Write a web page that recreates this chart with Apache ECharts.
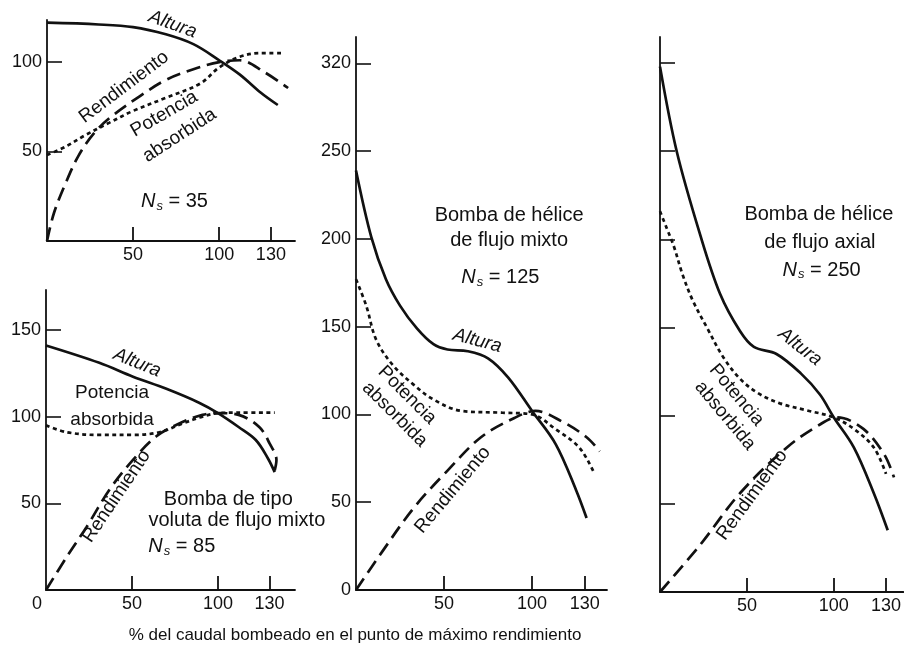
<!DOCTYPE html>
<html>
<head>
<meta charset="utf-8">
<script src="https://cdn.jsdelivr.net/npm/echarts@6/dist/echarts.min.js"></script>
<style>
  html, body { margin: 0; padding: 0; background: #fff; }
  #chart { width: 904px; height: 657px; }
</style>
</head>
<body>
<div id="chart"></div>
<script>
// % of flow at best efficiency point (x) against % of head / power / efficiency (y)
const FONT = '"Liberation Sans", Arial, Helvetica, sans-serif';

// Ns = 35
const ns35Altura = [[0,122],[30,121],[50,119.5],[69,115.5],[85,110],[100,101],[112,93],[124,83],[134,76]];
const ns35Rend   = [[0,0],[4,15.5],[10.7,32],[18.5,48],[28,61],[38,70],[54,81],[69,90],[85,96],[100,100],[112,101],[126,94.5],[140,85.5]];
const ns35Pot    = [[0,48],[10.7,52.7],[22,59],[36,66],[50,72.7],[69,80],[89,88],[100,97],[112,103],[124,105],[136,105]];

// Ns = 85
const ns85Altura = [[0,141],[31,131],[50.6,123],[70,116],[89,108],[100,102],[112,94],[122,86.5],[129,76],[133,68]];
const ns85Rend   = [[0,0],[12,19],[23.7,36.5],[37,58],[50.6,75],[64,88.5],[77.5,96],[91,101],[100.6,102],[112,101],[124,94],[130,84.6],[134,75],[133,69]];
const ns85Pot    = [[0,95],[12,91],[31,89.4],[50.6,89.4],[66,91],[79.4,96],[91,100],[100,102],[112,102.3],[133,102.3]];

// Ns = 125
const ns125Altura = [[0,239],[8.7,201],[17,177],[25,162],[34.6,149],[44,140],[52,137],[63.5,136],[75,132],[86.5,121],[100,102],[113.5,83],[125,57],[131,41]];
const ns125Rend   = [[0,0],[15,22],[33,47],[52,68],[71,87],[90,98],[102,102],[117,96],[131,87],[138.5,79]];
const ns125Pot    = [[0,177],[5.8,162],[11.5,142.5],[21,128],[32.7,117],[44,108.5],[60,102],[83,101],[100,100],[113.5,91.5],[127,81],[135.6,66]];

// Ns = 250
const ns250Altura = [[0,298],[9.6,250],[23,203],[34.6,169],[46,148],[54,139],[67,135],[81,124],[92,112],[100,99],[111.5,82],[123,56],[131,35]];
const ns250Rend   = [[0,0],[23,26.6],[46,56],[73,82],[92,95],[102,99],[117,92.5],[129,78],[134.6,65]];
const ns250Pot    = [[0,216],[4,206],[8,196],[13,180],[19,165],[27,150],[36.5,133],[46,121],[56,113],[69,107],[84.6,103],[100,99],[111.5,92.5],[123,82],[130,67]];

// ticks
const xTicks = [50, 100, 130];
const xTicksWithZero = [0, 50, 100, 130];
const y35Ticks = [50, 100];
const y85Ticks = [50, 100, 150];
const yBigTicks = [0, 50, 100, 150, 200, 250, 300];
const yBigTickLabels = ['0', '50', '100', '150', '200', '250', '320'];

const grids = [
  { left: 47,  top: 20,  width: 248, height: 221, xMax: 144,   yMax: 123.5 },
  { left: 46,  top: 290, width: 249, height: 300, xMax: 144.8, yMax: 173 },
  { left: 356, top: 37,  width: 251, height: 553, xMax: 142.6, yMax: 315 },
  { left: 660, top: 37,  width: 244, height: 555, xMax: 140,   yMax: 314.8 }
];

const axisColor = '#111';
const TICK_FONT = 18;

function xAxisFor(i, labels) {
  return {
    gridIndex: i, type: 'value', min: 0, max: grids[i].xMax,
    axisLine: { show: true, onZero: false, lineStyle: { color: axisColor, width: 1.8 } },
    axisTick: { show: true, inside: true, length: 14, customValues: xTicks, lineStyle: { color: axisColor, width: 1.8 } },
    axisLabel: {
      customValues: labels, color: '#111', fontSize: TICK_FONT, fontFamily: FONT, margin: 5,
      formatter: v => v === 0 ? '{z|0}' : String(v),
      rich: { z: { fontSize: TICK_FONT, fontFamily: FONT, color: '#111', padding: [0, 18, 0, 0] } }
    },
    splitLine: { show: false }
  };
}

function yAxisFor(i, ticks, showLabels, fmt) {
  return {
    gridIndex: i, type: 'value', min: 0, max: grids[i].yMax,
    axisLine: { show: true, onZero: false, lineStyle: { color: axisColor, width: 1.8 } },
    axisTick: { show: true, inside: true, length: 15, customValues: ticks, lineStyle: { color: axisColor, width: 1.6 } },
    axisLabel: {
      show: showLabels, customValues: ticks, color: '#111', fontSize: TICK_FONT, fontFamily: FONT, margin: 5,
      formatter: fmt || (v => String(v))
    },
    splitLine: { show: false }
  };
}

function curves(i, altura, rend, pot) {
  const base = { type: 'line', xAxisIndex: i, yAxisIndex: i, showSymbol: false, symbol: 'none', smooth: 0.35, silent: true };
  return [
    Object.assign({}, base, { name: 'Altura', data: altura, lineStyle: { color: '#111', width: 2.7, type: 'solid' } }),
    Object.assign({}, base, { name: 'Rendimiento', data: rend, lineStyle: { color: '#111', width: 2.7, type: [14, 7] } }),
    Object.assign({}, base, { name: 'Potencia absorbida', data: pot, lineStyle: { color: '#111', width: 2.7, type: [4, 3.5] } })
  ];
}

const chart = echarts.init(document.getElementById('chart'), null, { renderer: 'canvas' });

const option = {
  animation: false,
  backgroundColor: '#fff',
  grid: grids.map(g => ({ left: g.left, top: g.top, width: g.width, height: g.height, containLabel: false })),
  xAxis: [
    xAxisFor(0, xTicks),
    xAxisFor(1, xTicksWithZero),
    xAxisFor(2, xTicks),
    xAxisFor(3, xTicks)
  ],
  yAxis: [
    yAxisFor(0, y35Ticks, true),
    yAxisFor(1, y85Ticks, true),
    yAxisFor(2, yBigTicks, true, v => yBigTickLabels[yBigTicks.indexOf(v)]),
    yAxisFor(3, yBigTicks.slice(1), false)
  ],
  series: [].concat(
    curves(0, ns35Altura, ns35Rend, ns35Pot),
    curves(1, ns85Altura, ns85Rend, ns85Pot),
    curves(2, ns125Altura, ns125Rend, ns125Pot),
    curves(3, ns250Altura, ns250Rend, ns250Pot)
  )
};

chart.setOption(option);

// annotations in data coordinates: [grid, x, y, text, rotation (deg), kind]
const notes = [
  [0, 73, 121, 'Altura', -20, 'italic'],
  [0, 44.7, 86, 'Rendimiento', 37, 'plain'],
  [0, 68, 71, 'Potencia', 30, 'plain'],
  [0, 77, 59, 'absorbida', 33, 'plain'],
  [0, 74, 22, '35', 0, 'ns'],

  [1, 53, 131, 'Altura', -22, 'italic'],
  [1, 38.4, 114, 'Potencia', 0, 'plain'],
  [1, 38.4, 98, 'absorbida', 0, 'plain'],
  [1, 41, 54, 'Rendimiento', 56, 'plain'],
  [1, 106, 52, 'Bomba de tipo', 0, 'big'],
  [1, 111, 40, 'voluta de flujo mixto', 0, 'big'],
  [1, 79, 25, '85', 0, 'ns'],

  [2, 87, 213.5, 'Bomba de hélice', 0, 'big'],
  [2, 87, 199, 'de flujo mixto', 0, 'big'],
  [2, 82, 178, '125', 0, 'ns'],
  [2, 69, 142, 'Altura', -15, 'italic'],
  [2, 29, 111, 'Potencia', -45, 'plain'],
  [2, 22, 100, 'absorbida', -45, 'plain'],
  [2, 55, 57, 'Rendimiento', 50, 'plain'],

  [3, 91.4, 214, 'Bomba de hélice', 0, 'big'],
  [3, 92, 198.5, 'de flujo axial', 0, 'big'],
  [3, 93, 182.6, '250', 0, 'ns'],
  [3, 80.5, 139, 'Altura', -38, 'italic'],
  [3, 44, 111.7, 'Potencia', -50, 'plain'],
  [3, 37.4, 100, 'absorbida', -50, 'plain'],
  [3, 53, 55, 'Rendimiento', 54, 'plain']
];

const graphics = notes.map(([gi, x, y, text, rot, kind]) => {
  const p = chart.convertToPixel({ gridIndex: gi }, [x, y]);
  const style = { fill: '#111', textAlign: 'center', textVerticalAlign: 'middle', fontFamily: FONT };
  if (kind === 'ns') {
    style.text = '{n|N}{s|s}{t| = ' + text + '}';
    style.rich = {
      n: { fontSize: 20, fontStyle: 'italic', fontFamily: FONT, fill: '#111' },
      s: { fontSize: 13, fontStyle: 'italic', fontFamily: FONT, fill: '#111', padding: [9, 0, 0, 1] },
      t: { fontSize: 20, fontFamily: FONT, fill: '#111' }
    };
  } else {
    style.text = text;
    style.fontSize = kind === 'big' ? 20 : 19;
    if (kind === 'italic') style.fontStyle = 'italic';
  }
  return { type: 'text', x: p[0], y: p[1], rotation: rot * Math.PI / 180, silent: true, style };
});

graphics.push({
  type: 'text', x: 355, y: 635, silent: true,
  style: { text: '% del caudal bombeado en el punto de máximo rendimiento', fill: '#111',
           fontSize: 17, fontFamily: FONT, textAlign: 'center', textVerticalAlign: 'middle' }
});

chart.setOption({ graphic: graphics });
</script>
</body>
</html>
